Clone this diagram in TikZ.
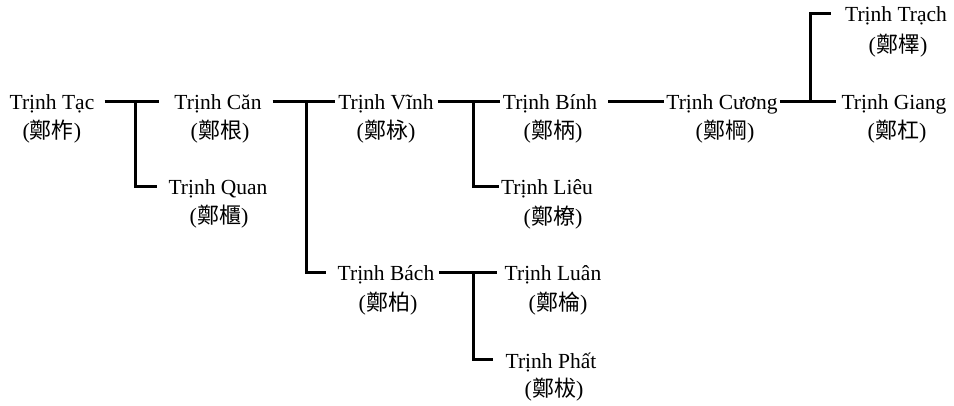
\documentclass[tikz,border=0pt]{standalone}
\usepackage{fontspec}
\setmainfont{Liberation Serif}
\newfontfamily\cjk{Noto Sans CJK TC}
\begin{document}
\begin{tikzpicture}[x=1pt,y=-1pt,
  nm/.style={anchor=base,inner sep=0pt,font=\fontsize{21.5}{24}\selectfont},
  han/.style={inner sep=0pt,font=\fontsize{22}{24}\selectfont},
  link/.style={line width=3pt,black},
  lvl/.style={yshift=8.5pt}]
\useasboundingbox (0,0) rectangle (954,406);

% names (baselines)
\node[nm] (tac)   at (52,110)  {Trịnh Tạc};
\node[nm] (can)   at (218,110) {Trịnh Căn};
\node[nm] (quan)  at (218,195) {Trịnh Quan};
\node[nm] (vinh)  at (386,110) {Trịnh Vĩnh};
\node[nm] (bach)  at (386,281) {Trịnh Bách};
\node[nm] (binh)  at (550,110) {Trịnh Bính};
\node[nm] (lieu)  at (547,195) {Trịnh Liêu};
\node[nm] (luan)  at (553,281) {Trịnh Luân};
\node[nm] (phat)  at (551,368) {Trịnh Phất};
\node[nm] (cuong) at (722,110) {Trịnh Cương};
\node[nm] (trach) at (896,22)  {Trịnh Trạch};
\node[nm] (giang) at (894,110) {Trịnh Giang};

% Chinese names
\node[han] (tacH)   at (52,132)  {({\cjk 鄭柞})};
\node[han] (canH)   at (220,132) {({\cjk 鄭根})};
\node[han] (quanH)  at (219,217) {({\cjk 鄭櫃})};
\node[han] (vinhH)  at (386,132) {({\cjk 鄭栐})};
\node[han] (bachH)  at (388,304) {({\cjk 鄭柏})};
\node[han] (binhH)  at (553,132) {({\cjk 鄭柄})};
\node[han] (lieuH)  at (553,218) {({\cjk 鄭橑})};
\node[han] (luanH)  at (558,304) {({\cjk 鄭棆})};
\node[han] (phatH)  at (554,390) {({\cjk 鄭柭})};
\node[han] (cuongH) at (725,132) {({\cjk 鄭棡})};
\node[han] (trachH) at (898,46)  {({\cjk 鄭檡})};
\node[han] (giangH) at (897,132) {({\cjk 鄭杠})};

% connector end points, level with the top of the lower-case letters
\foreach \n in {tac,can,quan,vinh,bach,binh,lieu,luan,phat,cuong,trach,giang}{
  \coordinate[lvl] (\n-r) at (\n.base east);
  \coordinate[lvl] (\n-l) at (\n.base west);
}

% branch points
\coordinate (b1) at (135,0 |- tac-r);
\coordinate (b2) at (306,0 |- can-r);
\coordinate (b3) at (473,0 |- vinh-r);
\coordinate (b5) at (810,0 |- cuong-r);
\coordinate (b6) at (473,0 |- bach-r);

% connectors
\draw[link, shorten <=10pt, shorten >=15pt] (tac-r) -- (can-l);
\draw[link, shorten >=11pt] (b1) |- (quan-l);

\draw[link, shorten <=11pt, shorten >=3pt] (can-r) -- (vinh-l);
\draw[link, shorten >=12pt] (b2) |- (bach-l);

\draw[link, shorten <=4pt, shorten >=3pt] (vinh-r) -- (binh-l);
\draw[link, shorten >=2pt] (b3) |- (lieu-l);

\draw[link, shorten <=11pt, shorten >=2pt] (binh-r) -- (cuong-l);

\draw[link, shorten <=2pt, shorten >=5pt] (cuong-r) -- (giang-l);
\draw[link, shorten >=14pt] (b5) |- (trach-l);

\draw[link, shorten <=5pt, shorten >=8pt] (bach-r) -- (luan-l);
\draw[link, shorten >=12pt] (b6) |- (phat-l);
\end{tikzpicture}
\end{document}
